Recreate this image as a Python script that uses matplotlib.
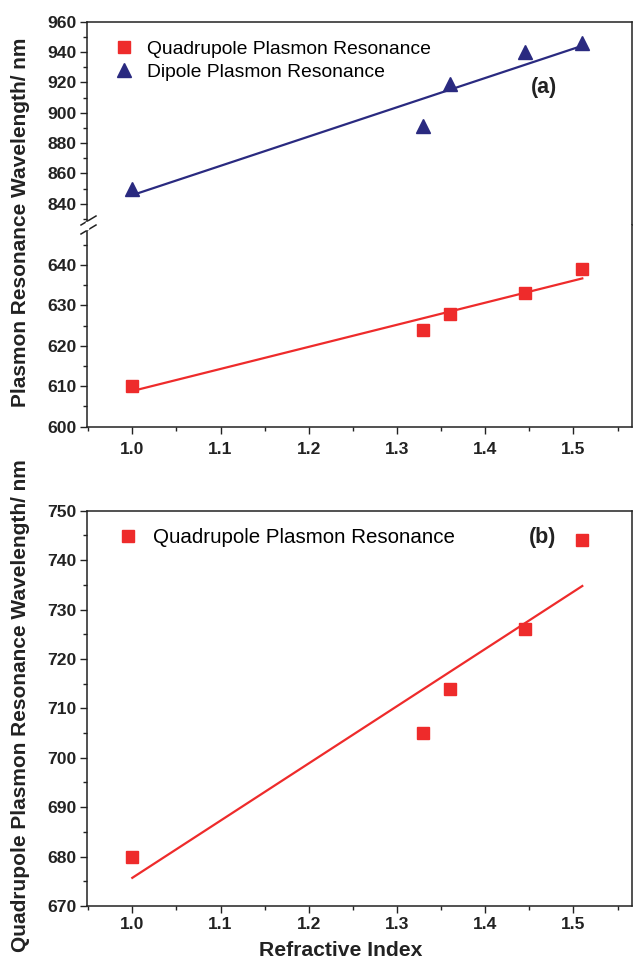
import numpy as np
import matplotlib
matplotlib.use("Agg")
import matplotlib.pyplot as plt
from matplotlib.ticker import MultipleLocator
from matplotlib.lines import Line2D

plt.rcParams['font.family'] = ['Liberation Sans', 'DejaVu Sans']

# data
refr_index = [1.0, 1.33, 1.36, 1.445, 1.51]
quad_a = [610, 624, 628, 633, 639]
dipole_a = [850, 891, 919, 940, 946]
quad_b = [680, 705, 714, 726, 744]

RED = '#ee2b2b'
NAVY = '#2a2a80'
INK = '#222222'

W, H = 635, 961
fig = plt.figure(figsize=(W / 100, H / 100), dpi=100)

def fx(px):
    return px / W

def fy(py):
    return 1 - py / H

left, right = 87.3, 631.7
ax_up = fig.add_axes([fx(left), fy(225), fx(right - left), fy(21.7) - fy(225)])
ax_lo = fig.add_axes([fx(left), fy(426.7), fx(right - left), fy(225) - fy(426.7)])
ax_b = fig.add_axes([fx(left), fy(906), fx(right - left), fy(510.7) - fy(906)])

xlim = (0.949, 1.566)

def style(ax, major, minor, show_x=True, xpad=6):
    ax.set_xlim(*xlim)
    ax.xaxis.set_major_locator(MultipleLocator(0.1))
    ax.xaxis.set_minor_locator(MultipleLocator(0.05))
    ax.yaxis.set_major_locator(MultipleLocator(major))
    ax.yaxis.set_minor_locator(MultipleLocator(minor))
    ax.tick_params(which='both', direction='out', top=False, right=False,
                   width=1.0, labelsize=12.6, labelcolor=INK, color=INK)
    ax.tick_params(axis='y', pad=3)
    ax.tick_params(axis='x', pad=xpad)
    ax.tick_params(which='major', length=5)
    ax.tick_params(which='minor', length=3.2)
    for lab in ax.get_xticklabels() + ax.get_yticklabels():
        lab.set_fontweight('bold')
    for s in ax.spines.values():
        s.set_linewidth(1.1)
        s.set_color(INK)
    if not show_x:
        ax.tick_params(axis='x', which='both', bottom=False, labelbottom=False)

def fit_line(ax, x, y, color):
    p = np.polyfit(x, y, 1)
    xs = np.array([min(x), max(x)])
    ax.plot(xs, np.polyval(p, xs), color=color, lw=1.6, zorder=2)

# upper part (a)
ax_up.set_ylim(826, 960)
fit_line(ax_up, refr_index, dipole_a, NAVY)
ax_up.plot(refr_index, dipole_a, ls='none', marker='^', ms=10, color=NAVY, zorder=3)
style(ax_up, 20, 10, show_x=False)
ax_up.spines['bottom'].set_visible(False)

# lower part (a)
ax_lo.set_ylim(600, 649.9)
fit_line(ax_lo, refr_index, quad_a, RED)
ax_lo.plot(refr_index, quad_a, ls='none', marker='s', ms=8.3, color=RED, zorder=3)
style(ax_lo, 10, 5)
ax_lo.spines['top'].set_visible(False)

# legend (a)
handles_a = [Line2D([], [], ls='none', marker='s', ms=8.3, color=RED),
             Line2D([], [], ls='none', marker='^', ms=10, color=NAVY)]
fig.legend(handles_a, ['Quadrupole Plasmon Resonance', 'Dipole Plasmon Resonance'],
           loc='upper left', bbox_to_anchor=(fx(115), fy(40)), frameon=False,
           fontsize=13.9, handletextpad=0.75, labelspacing=0.3, borderaxespad=0,
           handlelength=0.9, borderpad=0)
fig.text(fx(544), fy(88), '(a)', fontsize=15.5, fontweight='bold', ha='center', va='center',
         color=INK)

# break marks
for yy in (220.5, 229.5):
    fig.add_artist(Line2D([fx(81), fx(96)], [fy(yy + 4.5), fy(yy - 4.5)], color=INK,
                          lw=1.1, transform=fig.transFigure))
fig.add_artist(Line2D([fx(left), fx(left)], [fy(222.5), fy(227.5)], color='white',
                      lw=2.5, transform=fig.transFigure, zorder=5))

# panel (b)
ax_b.set_ylim(670, 750)
fit_line(ax_b, refr_index, quad_b, RED)
ax_b.plot(refr_index, quad_b, ls='none', marker='s', ms=8.3, color=RED, zorder=3)
style(ax_b, 10, 5, xpad=3)
fig.legend([Line2D([], [], ls='none', marker='s', ms=8.3, color=RED)],
           ['Quadrupole Plasmon Resonance'],
           loc='upper left', bbox_to_anchor=(fx(119), fy(528)), frameon=False,
           fontsize=14.8, handletextpad=0.75, borderaxespad=0, handlelength=0.9, borderpad=0)
fig.text(fx(543), fy(537), '(b)', fontsize=15.5, fontweight='bold', ha='center', va='center',
         color=INK)

# axis labels
fig.text(fx(21), fy(222), 'Plasmon Resonance Wavelength/ nm', rotation=90, fontsize=15,
         fontweight='bold', ha='center', va='center', color=INK)
fig.text(fx(21), fy(706), 'Quadrupole Plasmon Resonance Wavelength/ nm', rotation=90,
         fontsize=15, fontweight='bold', ha='center', va='center', color=INK)
fig.text(fx(341), fy(956.3), 'Refractive Index', fontsize=15.2, fontweight='bold', color=INK,
         ha='center', va='baseline')

fig.savefig('out.png', dpi=100)
